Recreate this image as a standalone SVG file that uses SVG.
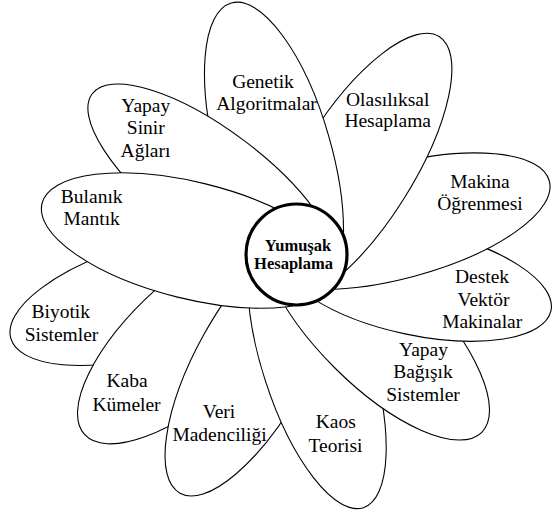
<svg xmlns="http://www.w3.org/2000/svg" width="552" height="513" viewBox="0 0 552 513">
<style>
.petal{fill:#fff;stroke:#000;stroke-width:1.1}
.lbl{font-family:"Liberation Serif","Times New Roman",serif;font-size:19.5px;text-anchor:middle;fill:#000}
.hub{fill:#fff;stroke:#000;stroke-width:3.2}
.hubl{font-family:"Liberation Serif","Times New Roman",serif;font-size:16.5px;font-weight:bold;text-anchor:middle;fill:#000}
</style>
<rect width="552" height="513" fill="#fff"/>
<g id="connectors"/>
<g id="biyotik">
<ellipse class="petal" cx="150.2" cy="298.4" rx="145" ry="56" transform="rotate(-16 150.2 298.4)"/>
<text class="lbl" x="60.8" y="317.5">Biyotik</text>
<text class="lbl" x="61.5" y="341">Sistemler</text>
</g>
<g id="kaba">
<ellipse class="petal" cx="196" cy="334" rx="150" ry="60" transform="rotate(-42 196 334)"/>
<text class="lbl" x="127" y="387">Kaba</text>
<text class="lbl" x="126.5" y="411">Kümeler</text>
</g>
<g id="veri">
<ellipse class="petal" cx="252.7" cy="362" rx="150" ry="56" transform="rotate(-61 252.7 362)"/>
<text class="lbl" x="219" y="417.5">Veri</text>
<text class="lbl" x="219.5" y="440.5">Madenciliği</text>
</g>
<g id="kaos">
<ellipse class="petal" cx="317" cy="365" rx="150" ry="54" transform="rotate(72 317 365)"/>
<text class="lbl" x="335.7" y="428.3">Kaos</text>
<text class="lbl" x="335.5" y="451.5">Teorisi</text>
</g>
<g id="yapay-bagisik">
<ellipse class="petal" cx="375.7" cy="326.2" rx="150" ry="58.4" transform="rotate(45 375.7 326.2)"/>
<text class="lbl" x="423.5" y="356">Yapay</text>
<text class="lbl" x="423" y="378">Bağışık</text>
<text class="lbl" x="423" y="401">Sistemler</text>
</g>
<g id="destek">
<ellipse class="petal" cx="416" cy="282" rx="138" ry="53" transform="rotate(12 416 282)"/>
<text class="lbl" x="482" y="283">Destek</text>
<text class="lbl" x="483.5" y="306">Vektör</text>
<text class="lbl" x="482.2" y="328">Makinalar</text>
</g>
<g id="makina">
<ellipse class="petal" cx="399.6" cy="221.1" rx="155" ry="57" transform="rotate(-15 399.6 221.1)"/>
<text class="lbl" x="480" y="188">Makina</text>
<text class="lbl" x="480" y="210">Öğrenmesi</text>
</g>
<g id="olasiliksal">
<ellipse class="petal" cx="357" cy="168" rx="155" ry="56" transform="rotate(-58 357 168)"/>
<text class="lbl" x="387.7" y="106">Olasılıksal</text>
<text class="lbl" x="387.7" y="127">Hesaplama</text>
</g>
<g id="genetik">
<ellipse class="petal" cx="274" cy="152" rx="155" ry="57" transform="rotate(74 274 152)"/>
<text class="lbl" x="263" y="88">Genetik</text>
<text class="lbl" x="266.5" y="110">Algoritmalar</text>
</g>
<g id="yapay-sinir">
<ellipse class="petal" cx="212" cy="184" rx="150" ry="54" transform="rotate(37 212 184)"/>
<text class="lbl" x="145.8" y="111.7">Yapay</text>
<text class="lbl" x="145.8" y="133.5">Sinir</text>
<text class="lbl" x="145.5" y="156.5">Ağları</text>
</g>
<g id="bulanik">
<ellipse class="petal" cx="191.5" cy="240.5" rx="154" ry="58.3" transform="rotate(13.9 191.5 240.5)"/>
<text class="lbl" x="91.7" y="203.3">Bulanık</text>
<text class="lbl" x="91.7" y="225">Mantık</text>
</g>
<g id="yumusak-hesaplama">
<circle class="hub" cx="296.5" cy="254.5" r="50.5"/>
<text class="hubl" x="298" y="251">Yumuşak</text>
<text class="hubl" x="293.5" y="269">Hesaplama</text>
</g>
</svg>
